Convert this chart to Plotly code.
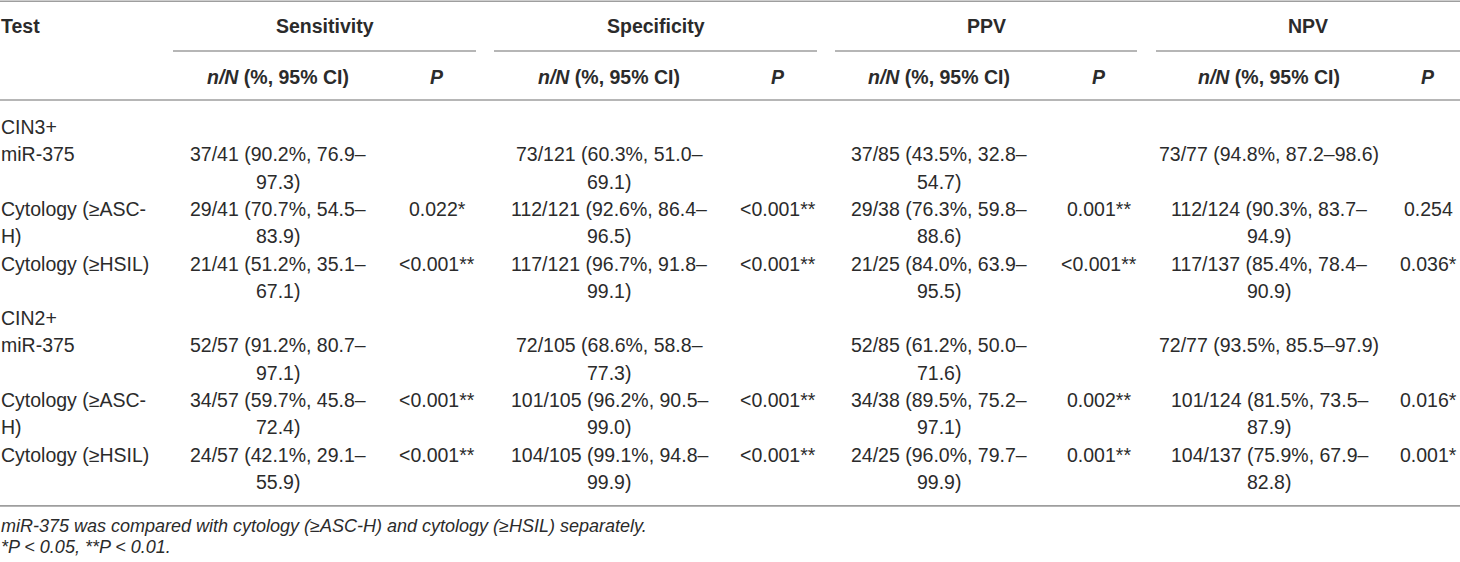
import plotly.graph_objects as go

# ---- table data ----
test_labels = ["CIN3+", "miR-375", "Cytology (≥ASC-H)", "Cytology (≥HSIL)",
               "CIN2+", "miR-375", "Cytology (≥ASC-H)", "Cytology (≥HSIL)"]

sens_nN = ["", "37/41 (90.2%, 76.9–97.3)", "29/41 (70.7%, 54.5–83.9)", "21/41 (51.2%, 35.1–67.1)",
           "", "52/57 (91.2%, 80.7–97.1)", "34/57 (59.7%, 45.8–72.4)", "24/57 (42.1%, 29.1–55.9)"]
sens_p = ["", "", "0.022*", "<0.001**", "", "", "<0.001**", "<0.001**"]

spec_nN = ["", "73/121 (60.3%, 51.0–69.1)", "112/121 (92.6%, 86.4–96.5)", "117/121 (96.7%, 91.8–99.1)",
           "", "72/105 (68.6%, 58.8–77.3)", "101/105 (96.2%, 90.5–99.0)", "104/105 (99.1%, 94.8–99.9)"]
spec_p = ["", "", "<0.001**", "<0.001**", "", "", "<0.001**", "<0.001**"]

ppv_nN = ["", "37/85 (43.5%, 32.8–54.7)", "29/38 (76.3%, 59.8–88.6)", "21/25 (84.0%, 63.9–95.5)",
          "", "52/85 (61.2%, 50.0–71.6)", "34/38 (89.5%, 75.2–97.1)", "24/25 (96.0%, 79.7–99.9)"]
ppv_p = ["", "", "0.001**", "<0.001**", "", "", "0.002**", "0.001**"]

npv_nN = ["", "73/77 (94.8%, 87.2–98.6)", "112/124 (90.3%, 83.7–94.9)", "117/137 (85.4%, 78.4–90.9)",
          "", "72/77 (93.5%, 85.5–97.9)", "101/124 (81.5%, 73.5–87.9)", "104/137 (75.9%, 67.9–82.8)"]
npv_p = ["", "", "0.254", "0.036*", "", "", "0.016*", "0.001*"]

groups = ["Sensitivity", "Specificity", "PPV", "NPV"]
footnotes = ["miR-375 was compared with cytology (≥ASC-H) and cytology (≥HSIL) separately.",
             "*P < 0.05, **P < 0.01."]

# ---- layout constants (pixel-like axis units) ----
W, H = 1460, 562
FONT = "Liberation Sans"
FS = 19.5
FS_NOTE = 18
TXT = "#2b2b2b"
RULE = "#9e9e9e"

group_spans = [(173, 476), (494, 817), (835, 1137), (1156, 1460)]
nN_x = [278, 609, 939, 1269]
p_x = [437, 778, 1099, 1428]
wrap_len = [22, 22, 22, 24]
TEST_WRAP = 16

HEAD_Y, SUB_Y = 26, 77
LINE0, STEP = 127, 27.3


def wrap(text, maxlen):
    """Break a cell after the last dash that still fits."""
    lines = []
    while len(text) > maxlen:
        cut = max(text.rfind("–", 0, maxlen), text.rfind("-", 0, maxlen))
        if cut <= 0:
            break
        lines.append(text[:cut + 1])
        text = text[cut + 1:]
    lines.append(text)
    return lines


fig = go.Figure()
ann = []


def add_text(x, y, text, anchor="center", size=FS):
    ann.append(dict(x=x, y=y, xref="x", yref="y", text=text, showarrow=False,
                    xanchor=anchor, yanchor="middle", borderpad=0,
                    font=dict(family=FONT, size=size, color=TXT)))


# header rows
add_text(0, HEAD_Y, "<b>Test</b>", anchor="left")
for g, (x0, x1), nx, px in zip(groups, group_spans, nN_x, p_x):
    add_text((x0 + x1) / 2, HEAD_Y, f"<b>{g}</b>")
    add_text(nx, SUB_Y, "<b><i>n/N</i> (%, 95% CI)</b>")
    add_text(px, SUB_Y, "<b><i>P</i></b>")

# body
columns = [(sens_nN, sens_p), (spec_nN, spec_p), (ppv_nN, ppv_p), (npv_nN, npv_p)]
line_idx = 0
for r, label in enumerate(test_labels):
    cells = [(0, "left", wrap(label, TEST_WRAP))]
    for c, (nn, pp) in enumerate(columns):
        cells.append((nN_x[c], "center", wrap(nn[r], wrap_len[c])))
        cells.append((p_x[c], "center", [pp[r]]))
    n_lines = max(len(lines) for _, _, lines in cells)
    for x, anchor, lines in cells:
        for k, ln in enumerate(lines):
            if ln:
                add_text(x, LINE0 + STEP * (line_idx + k), ln, anchor=anchor)
    line_idx += n_lines

body_end = LINE0 + STEP * (line_idx - 1)
bottom_rule = body_end + 24

for k, note in enumerate(footnotes):
    add_text(0, bottom_rule + 20 + k * 21, f"<i>{note}</i>", anchor="left", size=FS_NOTE)

# rules
shapes = []


def hline(x0, x1, y, w=1.6):
    shapes.append(dict(type="line", xref="x", yref="y", x0=x0, x1=x1, y0=y, y1=y,
                       line=dict(color=RULE, width=w)))


hline(0, W, 1.2)
for x0, x1 in group_spans:
    hline(x0, x1, 51)
hline(0, W, 100)
hline(0, W, bottom_rule)

fig.update_layout(
    width=W,
    height=H,
    margin=dict(l=0, r=0, t=0, b=0),
    paper_bgcolor="white",
    plot_bgcolor="white",
    showlegend=False,
    annotations=ann,
    shapes=shapes,
    xaxis=dict(range=[0, W], visible=False, fixedrange=True),
    yaxis=dict(range=[H, 0], visible=False, fixedrange=True),
)

# the page body has a default 8px margin; drop it so the table sits flush
fig.write_html("out.html", config={"displayModeBar": False},
               post_script="document.body.style.margin='0px';document.body.style.overflow='hidden';")
